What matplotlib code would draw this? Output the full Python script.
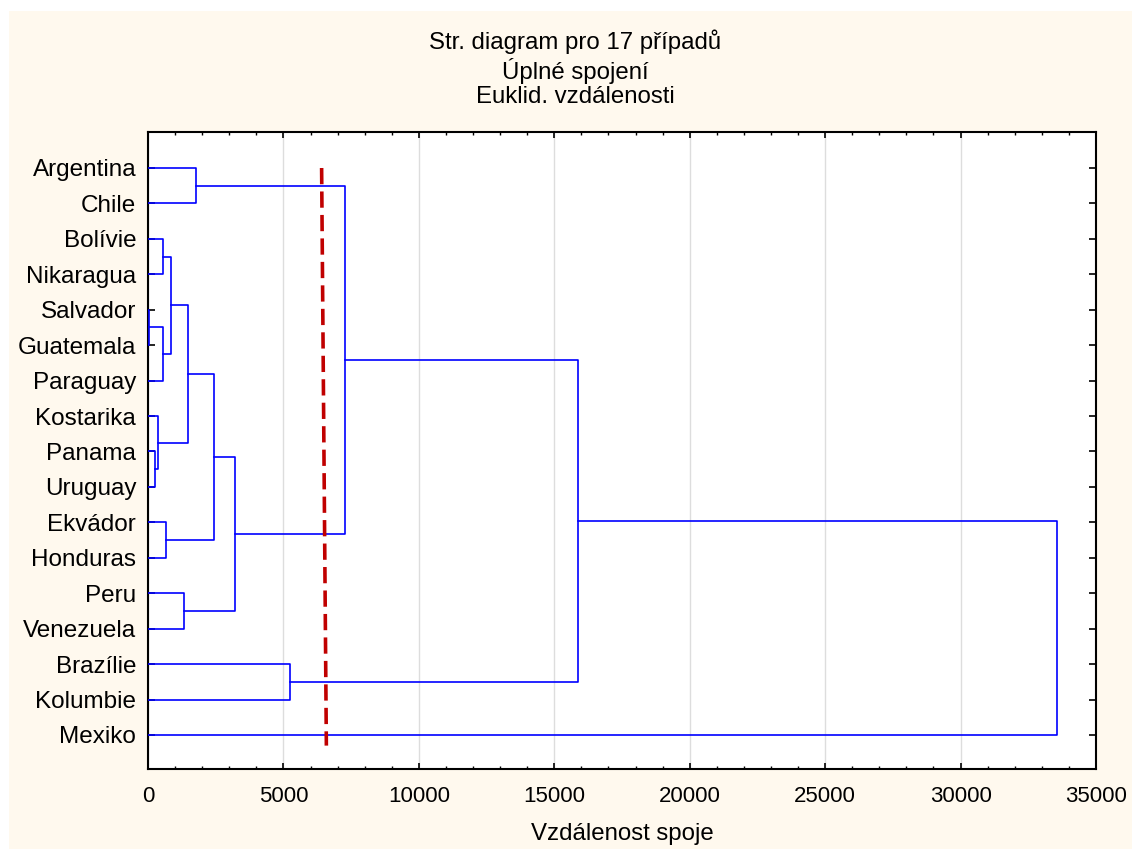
import matplotlib.pyplot as plt
from matplotlib.patches import Rectangle
from matplotlib.ticker import MultipleLocator

plt.rcParams['font.family'] = ['Liberation Sans', 'DejaVu Sans']

# poradi listu (shora dolu)
labels = ['Argentina', 'Chile', 'Bolívie', 'Nikaragua', 'Salvador', 'Guatemala',
          'Paraguay', 'Kostarika', 'Panama', 'Uruguay', 'Ekvádor', 'Honduras',
          'Peru', 'Venezuela', 'Brazílie', 'Kolumbie', 'Mexiko']

# spojeni: (levy, pravy, vzdalenost); int = index predchoziho spojeni
merges = [
    ('Salvador', 'Guatemala', 30),      # 0
    ('Panama', 'Uruguay', 270),         # 1
    ('Kostarika', 1, 360),              # 2
    ('Bolívie', 'Nikaragua', 545),      # 3
    (0, 'Paraguay', 565),               # 4
    ('Ekvádor', 'Honduras', 665),       # 5
    (3, 4, 850),                        # 6
    ('Peru', 'Venezuela', 1345),        # 7
    (6, 2, 1490),                       # 8
    ('Argentina', 'Chile', 1765),       # 9
    (8, 5, 2440),                       # 10
    (10, 7, 3210),                      # 11
    ('Brazílie', 'Kolumbie', 5260),     # 12
    (9, 11, 7260),                      # 13
    (13, 12, 15890),                    # 14
    (14, 'Mexiko', 33560),              # 15
]

# rucne dokreslena hranice rezu (x, y)
cut_x = [6410, 6585]
cut_y = [1.0, 17.3]

fig = plt.figure(figsize=(11.32, 8.49), dpi=100, facecolor='#FFF9EE')
# bily okraj nahore a vlevo
fig.patches.append(Rectangle((0, 1 - 11 / 849), 1, 11 / 849, transform=fig.transFigure,
                             facecolor='white', edgecolor='none', zorder=-10))
fig.patches.append(Rectangle((0, 0), 9 / 1132, 1, transform=fig.transFigure,
                             facecolor='white', edgecolor='none', zorder=-10))

ax = fig.add_axes([148 / 1132, 1 - 769 / 849, (1096 - 148) / 1132, (769 - 131.5) / 849])
ax.set_facecolor('white')

pos = {name: i + 1 for i, name in enumerate(labels)}
node = {}  # index spojeni -> (y stred, vyska)


def coord(n):
    if isinstance(n, int):
        return node[n]
    return pos[n], 0


for i, (a, b, h) in enumerate(merges):
    ya, ha = coord(a)
    yb, hb = coord(b)
    ax.plot([ha, h, h, hb], [ya, ya, yb, yb], color='#0000FF', lw=1.2, zorder=3)
    node[i] = ((ya + yb) / 2, h)

ax.plot(cut_x, cut_y, color='#C00000', lw=2.6, ls=(0, (4.5, 2)), zorder=4)

ax.set_xlim(0, 35000)
ax.set_ylim(17.96, -0.03)
ax.xaxis.set_major_locator(MultipleLocator(5000))
ax.xaxis.set_minor_locator(MultipleLocator(1000))
ax.set_yticks(range(1, len(labels) + 1))
ax.set_yticklabels(labels)
ax.grid(axis='x', which='major', color='#DDDDDD', lw=1.0, zorder=0)
ax.set_axisbelow(True)

ax.tick_params(axis='x', which='major', direction='in', top=True, length=4, width=1.2,
               labelsize=16, pad=12)
ax.tick_params(axis='x', which='minor', direction='in', top=True, length=2.5, width=1)
ax.tick_params(axis='y', direction='in', right=True, length=5, width=1.2,
               labelsize=17.5, pad=8.5)
for s in ax.spines.values():
    s.set_linewidth(1.5)

ax.set_xlabel('Vzdálenost spoje', fontsize=17.3, labelpad=12)

fig.text(575 / 1132, 1 - 69 / 849,
         'Str. diagram pro 17 případů\nÚplné spojení\nEuklid. vzdálenosti',
         ha='center', va='center', fontsize=17.3, linespacing=1.15)

fig.savefig('out.png', dpi=100, facecolor=fig.get_facecolor())
